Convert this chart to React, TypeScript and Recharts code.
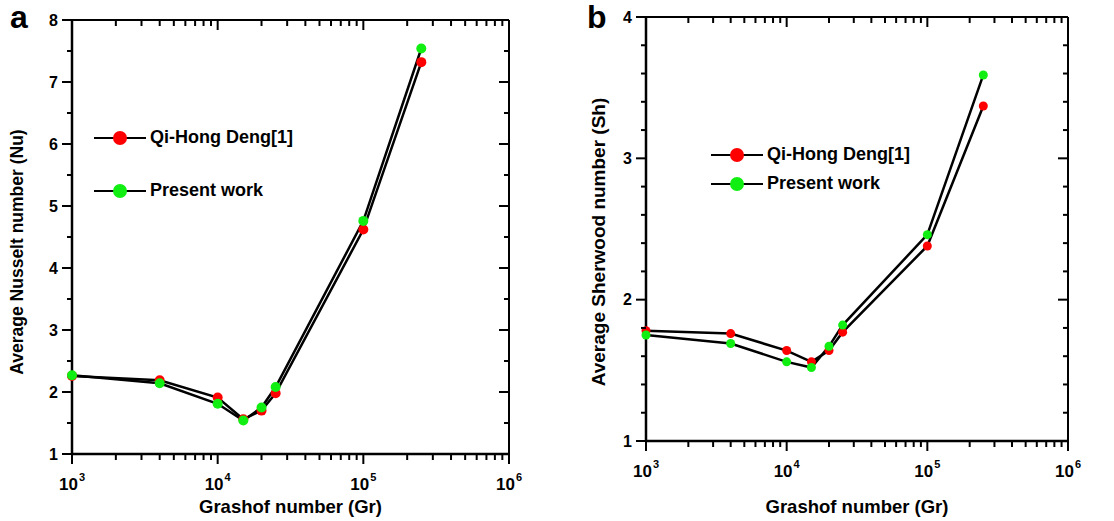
import React from 'react'
import { LineChart, Line, XAxis, YAxis } from 'recharts'

// Grashof numbers shared by both panels
const grashof = [1000, 4000, 10000, 15000, 20000, 25000, 100000, 250000]

// panel a: average Nusselt number
const nusseltDeng = [2.26, 2.19, 1.91, 1.56, 1.7, 1.98, 4.62, 7.32]
const nusseltPresent = [2.27, 2.14, 1.81, 1.54, 1.75, 2.08, 4.76, 7.54]

// panel b: average Sherwood number
const sherwoodDeng = [1.78, 1.76, 1.64, 1.56, 1.64, 1.77, 2.38, 3.37]
const sherwoodPresent = [1.75, 1.69, 1.56, 1.52, 1.67, 1.82, 2.46, 3.59]

const seriesNames = ['Qi-Hong Deng[1]', 'Present work']

const decades = [1000, 10000, 100000, 1000000]
const xTicks = [
  1000, 2000, 3000, 4000, 5000, 6000, 7000, 8000, 9000,
  10000, 20000, 30000, 40000, 50000, 60000, 70000, 80000, 90000,
  100000, 200000, 300000, 400000, 500000, 600000, 700000, 800000, 900000, 1000000,
]
// integers are the labelled (major) ticks
const nuTicks = [1, 1.5, 2, 2.5, 3, 3.5, 4, 4.5, 5, 5.5, 6, 6.5, 7, 7.5, 8]
const shTicks = [1, 1.2, 1.4, 1.6, 1.8, 2, 2.2, 2.4, 2.6, 2.8, 3, 3.2, 3.4, 3.6, 3.8, 4]

const RED = '#ff0000'
const GREEN = '#11ee11'
const FONT = '"Liberation Sans", Arial, Helvetica, sans-serif'

function XTick(props: any) {
  const { x, y, payload, side } = props
  const major = decades.includes(payload.value)
  const len = major ? 10 : 6
  const exp = Math.round(Math.log10(payload.value))
  return (
    <g>
      <path d={`M${x},${y}L${x},${y + len}`} stroke="#000" strokeWidth={2} fill="none" />
      {side === 'bottom' && major && (
        <text x={x} y={y + 36} textAnchor="middle" fontSize={17} fontFamily={FONT} fontWeight="bold">
          10
          <tspan dx={1} dy={-9} fontSize={11}>
            {exp}
          </tspan>
        </text>
      )}
    </g>
  )
}

function YTick(props: any) {
  const { x, y, payload, side } = props
  const major = Number.isInteger(payload.value)
  const len = major ? 10 : 5
  return (
    <g>
      <path d={`M${x},${y}L${x - len},${y}`} stroke="#000" strokeWidth={2} fill="none" />
      {side === 'left' && major && (
        <text x={x - 14} y={y} dy="0.36em" textAnchor="end" fontFamily={FONT} fontWeight="bold" fontSize={16}>
          {payload.value}
        </text>
      )}
    </g>
  )
}

function LegendBox({ left, top, gap }: { left: number; top: number; gap: number }) {
  const colors = [RED, GREEN]
  return (
    <div style={{ position: 'absolute', left, top, fontFamily: FONT, fontWeight: 'bold', fontSize: 18 }}>
      {seriesNames.map((name, i) => (
        <div key={name} style={{ display: 'flex', alignItems: 'center', height: gap }}>
          <div style={{ position: 'relative', width: 52, height: 16, marginRight: 4 }}>
            <div style={{ position: 'absolute', left: 0, top: 7, width: 52, height: 2.5, background: '#000' }} />
            <div
              style={{
                position: 'absolute',
                left: 19,
                top: 1,
                width: 14,
                height: 14,
                borderRadius: 7,
                background: colors[i],
              }}
            />
          </div>
          <span>{name}</span>
        </div>
      ))}
    </div>
  )
}

function YTitle({ text, cx, cy, size }: { text: string; cx: number; cy: number; size: number }) {
  return (
    <div
      style={{
        position: 'absolute',
        left: cx,
        top: cy,
        transform: 'translate(-50%, -50%) rotate(-90deg)',
        whiteSpace: 'nowrap',
        fontFamily: FONT,
        fontWeight: 'bold',
        fontSize: size,
        lineHeight: 1,
      }}
    >
      {text}
    </div>
  )
}

type PanelProps = {
  deng: number[]
  present: number[]
  yDomain: [number, number]
  yTicks: number[]
  margin: { top: number; right: number; left: number; bottom: number }
  yAxisWidth: number
  xAxisHeight: number
  dotR: number
}

function Panel(p: PanelProps) {
  const data = grashof.map((g, i) => ({ gr: g, deng: p.deng[i], present: p.present[i] }))

  return (
    <LineChart width={557} height={521} data={data} margin={p.margin}>
      <XAxis
        xAxisId="b"
        dataKey="gr"
        type="number"
        scale="log"
        domain={[1000, 1000000]}
        ticks={xTicks}
        interval={0}
        height={p.xAxisHeight}
        tickSize={0}
        tickMargin={0}
        tickLine={false}
        axisLine={{ stroke: '#000', strokeWidth: 2.5 }}
        tick={(t: any) => <XTick {...t} side="bottom" />}
        label={{
          content: (lp: any) => (
            <text
              x={lp.viewBox.x + lp.viewBox.width / 2}
              y={513}
              textAnchor="middle"
              fontFamily={FONT}
              fontWeight="bold"
              fontSize={18.5}
            >
              Grashof number (Gr)
            </text>
          ),
        }}
      />
      <XAxis
        xAxisId="t"
        orientation="top"
        dataKey="gr"
        type="number"
        scale="log"
        domain={[1000, 1000000]}
        ticks={xTicks}
        interval={0}
        height={1}
        tickSize={0}
        tickMargin={0}
        tickLine={false}
        axisLine={{ stroke: '#000', strokeWidth: 2 }}
        tick={(t: any) => <XTick {...t} side="top" />}
      />
      <YAxis
        yAxisId="l"
        type="number"
        domain={p.yDomain}
        ticks={p.yTicks}
        interval={0}
        width={p.yAxisWidth}
        tickSize={0}
        tickMargin={0}
        tickLine={false}
        axisLine={{ stroke: '#000', strokeWidth: 2.5 }}
        tick={(t: any) => <YTick {...t} side="left" />}
      />
      <YAxis
        yAxisId="r"
        orientation="right"
        type="number"
        domain={p.yDomain}
        ticks={p.yTicks}
        interval={0}
        width={1}
        tickSize={0}
        tickMargin={0}
        tickLine={false}
        axisLine={{ stroke: '#000', strokeWidth: 2 }}
        tick={(t: any) => <YTick {...t} side="right" />}
      />
      <Line
        xAxisId="b"
        yAxisId="l"
        dataKey="deng"
        stroke="#000"
        strokeWidth={2.5}
        dot={{ r: p.dotR, fill: RED, stroke: 'none' }}
        isAnimationActive={false}
      />
      {/* same domains: the mirrored axes only carry the frame */}
      <Line
        xAxisId="t"
        yAxisId="r"
        dataKey="present"
        stroke="#000"
        strokeWidth={2.5}
        dot={{ r: p.dotR, fill: GREEN, stroke: 'none' }}
        isAnimationActive={false}
      />
    </LineChart>
  )
}

const letterStyle: React.CSSProperties = {
  position: 'absolute',
  top: 0,
  fontFamily: FONT,
  fontWeight: 'bold',
  fontSize: 32,
  lineHeight: '34px',
}

export default function App() {
  return (
    <div style={{ position: 'absolute', left: 0, top: 0, width: 1114, height: 521, background: '#fff' }}>
      <div style={{ position: 'absolute', left: 0, top: 0 }}>
        <Panel
          deng={nusseltDeng}
          present={nusseltPresent}
          yDomain={[1, 8]}
          yTicks={nuTicks}
          margin={{ top: 19, right: 47, left: 0, bottom: 0 }}
          yAxisWidth={72}
          xAxisHeight={67}
          dotR={5}
        />
      </div>
      <div style={{ position: 'absolute', left: 557, top: 0 }}>
        <Panel
          deng={sherwoodDeng}
          present={sherwoodPresent}
          yDomain={[1, 4]}
          yTicks={shTicks}
          margin={{ top: 16, right: 45, left: 0, bottom: 0 }}
          yAxisWidth={89}
          xAxisHeight={80}
          dotR={4.5}
        />
      </div>
      <YTitle text="Average Nusselt number (Nu)" cx={18} cy={252} size={17.5} />
      <YTitle text="Average Sherwood number (Sh)" cx={598} cy={242} size={19} />
      <LegendBox left={94} top={111} gap={53} />
      <LegendBox left={711} top={140} gap={29} />
      <div style={{ ...letterStyle, left: 10 }}>a</div>
      <div style={{ ...letterStyle, left: 587 }}>b</div>
    </div>
  )
}
